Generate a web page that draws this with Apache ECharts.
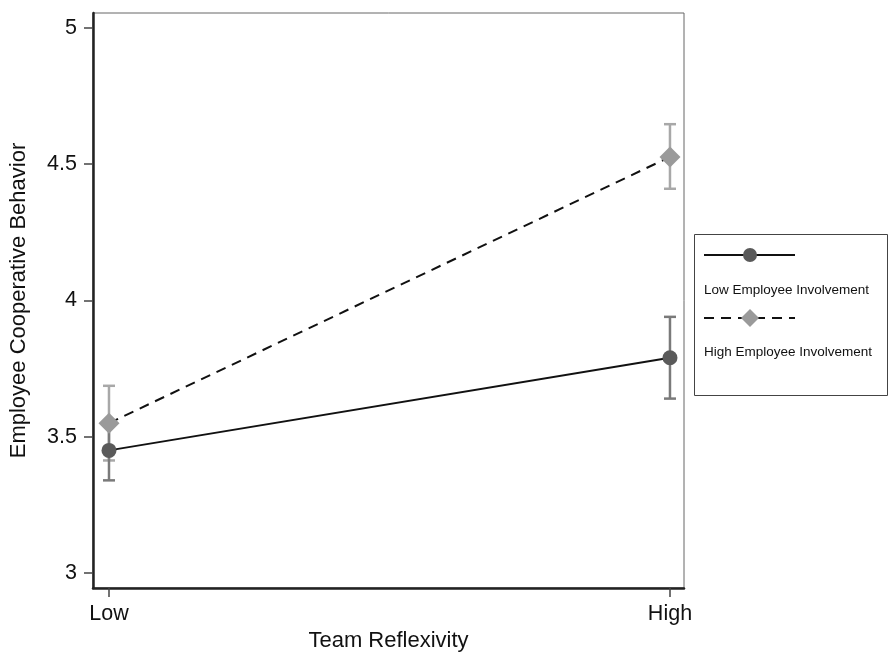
<!DOCTYPE html>
<html>
<head>
<meta charset="utf-8">
<script src="https://cdn.jsdelivr.net/npm/echarts@6/dist/echarts.min.js"></script>
<style>
  html, body { margin: 0; padding: 0; background: #fff; }
  #main { width: 891px; height: 652px; }
</style>
</head>
<body>
<div id="main"></div>
<script>
// x positions: 0 = Low, 1 = High team reflexivity
var xCats = ['Low', 'High'];
var xPos = [0, 1];
var yTicks = [3, 3.5, 4, 4.5, 5];

// low employee involvement
var lowMean = [3.45, 3.79];
var lowLo = [3.34, 3.64];
var lowHi = [3.56, 3.94];

// high employee involvement
var highMean = [3.55, 4.527];
var highLo = [3.413, 4.41];
var highHi = [3.687, 4.647];

var seriesNames = ['Low Employee Involvement', 'High Employee Involvement'];

function pairs(ys) {
    return xPos.map(function (x, i) { return [x, ys[i]]; });
}
function bars(lo, hi) {
    return xPos.map(function (x, i) { return [x, lo[i], hi[i]]; });
}

function errorBar(color) {
    return function (params, api) {
        var top = api.coord([api.value(0), api.value(2)]);
        var bot = api.coord([api.value(0), api.value(1)]);
        var w = 6;
        var st = { stroke: color, lineWidth: 2.5 };
        return {
            type: 'group',
            children: [
                { type: 'line', shape: { x1: top[0], y1: top[1], x2: bot[0], y2: bot[1] }, style: st },
                { type: 'line', shape: { x1: top[0] - w, y1: top[1], x2: top[0] + w, y2: top[1] }, style: st },
                { type: 'line', shape: { x1: bot[0] - w, y1: bot[1], x2: bot[0] + w, y2: bot[1] }, style: st }
            ]
        };
    };
}

var chart = echarts.init(document.getElementById('main'));
var font = 'Liberation Sans, Arial, sans-serif';

var option = {
    animation: false,
    grid: {
        left: 93, top: 13, width: 591, height: 575,
        outerBoundsMode: 'none', containLabel: false,
        show: true, borderColor: '#666', borderWidth: 1
    },
    xAxis: {
        type: 'value',
        min: -0.0285,
        max: 1.025,
        name: 'Team Reflexivity',
        nameLocation: 'middle',
        nameGap: 41,
        nameTextStyle: { fontFamily: font, fontSize: 22, color: '#111' },
        axisLine: { show: true, onZero: false, lineStyle: { color: '#222', width: 2.5 } },
        axisTick: { show: true, length: 9, customValues: xPos, lineStyle: { color: '#444', width: 1.5 } },
        axisLabel: {
            customValues: xPos,
            margin: 15,
            fontFamily: font, fontSize: 21.5, color: '#111',
            formatter: function (v) { return xCats[Math.round(v)]; }
        },
        splitLine: { show: false }
    },
    yAxis: {
        type: 'value',
        min: 2.945,
        max: 5.055,
        name: 'Employee Cooperative Behavior',
        nameLocation: 'middle',
        nameGap: 63,
        nameTextStyle: { fontFamily: font, fontSize: 22, color: '#111' },
        axisLine: { show: true, onZero: false, lineStyle: { color: '#222', width: 2.5 } },
        axisTick: { show: true, length: 9, customValues: yTicks, lineStyle: { color: '#444', width: 1.5 } },
        axisLabel: {
            customValues: yTicks,
            margin: 16,
            fontFamily: font, fontSize: 21.5, color: '#111',
            formatter: function (v) { return String(v); }
        },
        splitLine: { show: false }
    },
    series: [
        {
            type: 'custom',
            renderItem: errorBar('#a8a8a8'),
            data: bars(highLo, highHi),
            z: 1
        },
        {
            type: 'custom',
            renderItem: errorBar('#7a7a7a'),
            data: bars(lowLo, lowHi),
            z: 1
        },
        {
            name: seriesNames[1],
            type: 'line',
            data: pairs(highMean),
            symbol: 'diamond',
            symbolSize: 21,
            itemStyle: { color: '#9a9a9a' },
            lineStyle: { color: '#111', width: 2, type: [10, 7] },
            z: 3
        },
        {
            name: seriesNames[0],
            type: 'line',
            data: pairs(lowMean),
            symbol: 'circle',
            symbolSize: 15,
            itemStyle: { color: '#5a5a5a' },
            lineStyle: { color: '#111', width: 2 },
            z: 4
        }
    ],
    graphic: [
        { type: 'rect', shape: { x: 694.5, y: 234.5, width: 193, height: 161 }, style: { fill: '#fff', stroke: '#444', lineWidth: 1 } },
        { type: 'line', shape: { x1: 704, y1: 255, x2: 795, y2: 255 }, style: { stroke: '#111', lineWidth: 2 } },
        { type: 'circle', shape: { cx: 750, cy: 255, r: 7 }, style: { fill: '#5a5a5a' } },
        { type: 'text', left: 704, top: 283, style: { text: seriesNames[0], font: '13.5px ' + font, fill: '#111' } },
        { type: 'line', shape: { x1: 704, y1: 318, x2: 795, y2: 318 }, style: { stroke: '#111', lineWidth: 2, lineDash: [10, 7] } },
        { type: 'polygon', shape: { points: [[750, 309], [759, 318], [750, 327], [741, 318]] }, style: { fill: '#9a9a9a' } },
        { type: 'text', left: 704, top: 345, style: { text: seriesNames[1], font: '13.5px ' + font, fill: '#111' } }
    ]
};

chart.setOption(option);
</script>
</body>
</html>
